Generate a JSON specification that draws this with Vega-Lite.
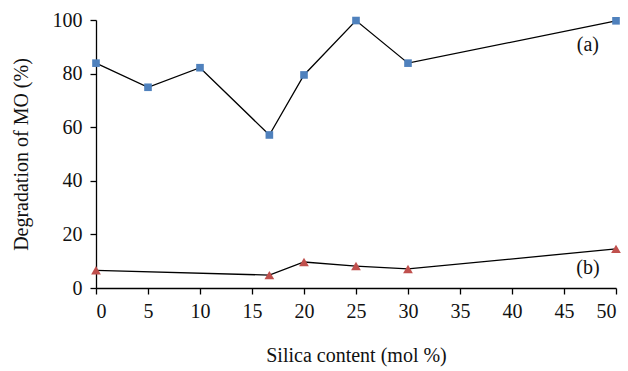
{
  "$schema": "https://vega.github.io/schema/vega-lite/v6.json",
  "width": 520,
  "height": 268,
  "autosize": {"type": "none"},
  "padding": {"left": 96, "top": 20, "right": 12, "bottom": 83},
  "background": "white",
  "config": {
    "view": {"stroke": null},
    "font": "Liberation Serif",
    "axis": {
      "grid": false,
      "domainColor": "black",
      "domainWidth": 1.3,
      "tickColor": "black",
      "tickWidth": 1.3,
      "tickSize": 6,
      "labelColor": "#111",
      "labelFont": "Liberation Serif",
      "labelFontSize": 20,
      "titleFont": "Liberation Serif",
      "titleFontSize": 20,
      "titleFontWeight": "normal",
      "titleColor": "#111"
    }
  },
  "datasets": {
    "series": [
      {"silica": 0, "degradation": 83.9, "sample": "a"},
      {"silica": 5, "degradation": 74.9, "sample": "a"},
      {"silica": 10, "degradation": 82.2, "sample": "a"},
      {"silica": 16.67, "degradation": 57.1, "sample": "a"},
      {"silica": 20, "degradation": 79.5, "sample": "a"},
      {"silica": 25, "degradation": 99.8, "sample": "a"},
      {"silica": 30, "degradation": 83.9, "sample": "a"},
      {"silica": 50, "degradation": 99.7, "sample": "a"},
      {"silica": 0, "degradation": 6.6, "sample": "b"},
      {"silica": 16.67, "degradation": 4.8, "sample": "b"},
      {"silica": 20, "degradation": 9.7, "sample": "b"},
      {"silica": 25, "degradation": 8.2, "sample": "b"},
      {"silica": 30, "degradation": 7.1, "sample": "b"},
      {"silica": 50, "degradation": 14.6, "sample": "b"}
    ],
    "tags": [
      {"silica": 47.3, "degradation": 90.5, "label": "(a)"},
      {"silica": 47.3, "degradation": 7.4, "label": "(b)"}
    ]
  },
  "layer": [
    {
      "data": {"name": "series"},
      "mark": {"type": "line", "color": "black", "strokeWidth": 1.3},
      "encoding": {
        "x": {
          "field": "silica", "type": "quantitative",
          "scale": {"domain": [0, 50], "nice": false},
          "axis": {"values": [0, 5, 10, 15, 20, 25, 30, 35, 40, 45, 50], "labelPadding": 7, "title": "Silica content (mol %)", "titlePadding": 24}
        },
        "y": {
          "field": "degradation", "type": "quantitative",
          "scale": {"domain": [0, 100], "nice": false},
          "axis": {"values": [0, 20, 40, 60, 80, 100], "labelPadding": 8, "title": "Degradation of MO (%)", "titlePadding": 21}
        },
        "detail": {"field": "sample"}
      }
    },
    {
      "data": {"name": "series"},
      "mark": {"type": "point", "filled": true, "opacity": 1},
      "encoding": {
        "x": {"field": "silica", "type": "quantitative"},
        "y": {"field": "degradation", "type": "quantitative"},
        "color": {"field": "sample", "type": "nominal", "scale": {"domain": ["a", "b"], "range": ["#4F81BD", "#C0504D"]}, "legend": null},
        "shape": {"field": "sample", "type": "nominal", "scale": {"domain": ["a", "b"], "range": ["square", "triangle-up"]}, "legend": null},
        "size": {"field": "sample", "type": "nominal", "scale": {"domain": ["a", "b"], "range": [58, 95]}, "legend": null}
      }
    },
    {
      "data": {"name": "tags"},
      "mark": {"type": "text", "fontSize": 20, "font": "Liberation Serif", "color": "#111", "align": "center", "baseline": "middle"},
      "encoding": {
        "x": {"field": "silica", "type": "quantitative"},
        "y": {"field": "degradation", "type": "quantitative"},
        "text": {"field": "label"}
      }
    }
  ]
}
